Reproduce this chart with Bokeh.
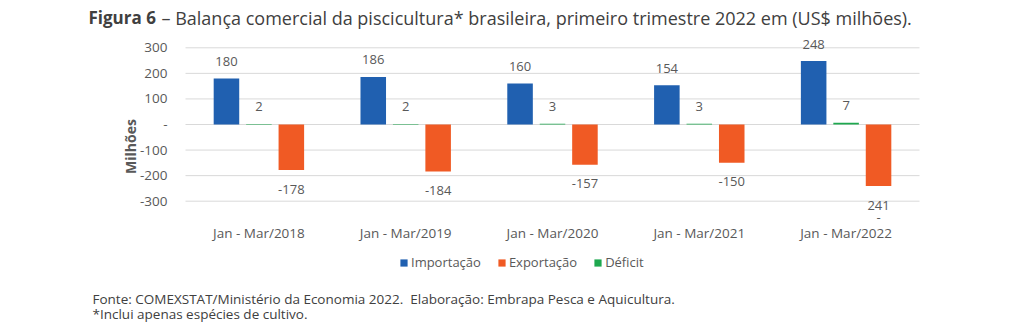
import math
from bokeh.plotting import figure
from bokeh.models import (Range1d, FixedTicker, Label, Legend, LegendItem,
                          ColumnDataSource)
from bokeh.transform import dodge
from bokeh.core.properties import value
from bokeh.embed import file_html
from bokeh.resources import INLINE

# ---- data ----
categories = ["Jan - Mar/2018", "Jan - Mar/2019", "Jan - Mar/2020",
              "Jan - Mar/2021", "Jan - Mar/2022"]
importacao = [180, 186, 160, 154, 248]
exportacao = [-178, -184, -157, -150, -241]
deficit = [2, 2, 3, 3, 7]
y_ticks = [-300, -200, -100, 0, 100, 200, 300]
y_tick_labels = ["-300", "-200", "-100", "-", "100", "200", "300"]

FONT = "Open Sans"
BLUE = "#2060B0"
ORANGE = "#F05A24"
GREEN = "#1EA84F"
TXT = "#595959"
DARK = "#404040"

W, H = 1024, 333
# plot-area geometry (pixels on the canvas)
PX_LEFT, PX_RIGHT = 185, 919
PY_TOP, PY_BOT = 47.3, 200.7   # pixel rows of y = 300 and y = -300
ncat = len(categories)
ppu_x = (PX_RIGHT - PX_LEFT) / ncat
ppu_y = (PY_BOT - PY_TOP) / (y_ticks[-1] - y_ticks[0])
x_start = -PX_LEFT / ppu_x
x_end = ncat + (W - PX_RIGHT) / ppu_x
y_end = y_ticks[-1] + PY_TOP / ppu_y
y_start = y_ticks[0] - (H - PY_BOT) / ppu_y

xc = [i + 0.5 for i in range(ncat)]
imp_lbl = [str(v) for v in importacao]
exp_lbl = [str(v) for v in exportacao]
exp_lbl[-1] = str(abs(exportacao[-1]))  # wrapped label in the original: "241" over "-"
def_lbl = [str(v) for v in deficit]

src = ColumnDataSource(dict(x=xc, imp=importacao, exp=exportacao, dfc=deficit,
                            imp_l=imp_lbl, exp_l=exp_lbl, dfc_l=def_lbl))

p = figure(x_range=Range1d(x_start, x_end), y_range=Range1d(y_start, y_end),
           width=W, height=H, output_backend="svg", toolbar_location=None,
           min_border=0)
p.outline_line_color = None
p.background_fill_color = "white"
p.border_fill_color = "white"
p.xgrid.visible = False
p.ygrid.visible = False

# gridlines (only across the plot area)
p.segment(x0=[0] * len(y_ticks), x1=[ncat] * len(y_ticks), y0=y_ticks, y1=y_ticks,
          line_color="#D9D9D9", line_width=1)

off = 0.221
bw = 0.174
r_imp = p.vbar(x=dodge("x", -off), top="imp", bottom=0, width=bw,
               source=src, fill_color=BLUE, line_color=None)
r_exp = p.vbar(x=dodge("x", off), top="exp", bottom=0, width=bw,
               source=src, fill_color=ORANGE, line_color=None)
r_dfc = p.vbar(x=dodge("x", 0), top="dfc", bottom=0, width=bw,
               source=src, fill_color=GREEN, line_color=None)

lab_kw = dict(source=src, text_font=value(FONT), text_font_size="13px", text_color=TXT,
              text_align="center", text_baseline="middle")
p.text(x=dodge("x", -off), y="imp", text="imp_l", y_offset=-17, **lab_kw)
p.text(x=dodge("x", 0), y="dfc", text="dfc_l", y_offset=-17, **lab_kw)
p.text(x=dodge("x", off), y="exp", text="exp_l", y_offset=19, **lab_kw)
# the stray "-" under the wrapped 2022 export label
p.text(x=[xc[-1] + off], y=[exportacao[-1]], text=["-"], y_offset=31,
       text_font=value(FONT), text_font_size="13px", text_color=TXT,
       text_align="center", text_baseline="middle")

# axes (fixed inside the full-canvas frame)
p.yaxis.fixed_location = 0
p.yaxis.ticker = FixedTicker(ticks=y_ticks)
p.yaxis.major_label_overrides = {t: l for t, l in zip(y_ticks, y_tick_labels)}
p.yaxis.axis_line_color = None
p.yaxis.major_tick_line_color = None
p.yaxis.minor_tick_line_color = None
p.yaxis.major_tick_out = 0
p.yaxis.major_tick_in = 0
p.yaxis.major_label_standoff = 18
p.yaxis.major_label_text_font = FONT
p.yaxis.major_label_text_font_size = "13.5px"
p.yaxis.major_label_text_color = TXT

p.xaxis.fixed_location = y_ticks[0]
p.xaxis.ticker = FixedTicker(ticks=xc)
p.xaxis.major_label_overrides = {x: c for x, c in zip(xc, categories)}
p.xaxis.axis_line_color = None
p.xaxis.major_tick_line_color = None
p.xaxis.minor_tick_line_color = None
p.xaxis.major_tick_out = 0
p.xaxis.major_tick_in = 0
p.xaxis.major_label_standoff = 23
p.xaxis.major_label_text_font = FONT
p.xaxis.major_label_text_font_size = "13.5px"
p.xaxis.major_label_text_color = TXT

# y axis title
p.add_layout(Label(x=130, y=146, x_units="canvas", y_units="canvas", text="Milhões",
                   angle=math.pi / 2, text_align="center", text_baseline="middle",
                   text_font=FONT, text_font_size="14px", text_font_style="bold",
                   text_color=TXT))

# legend
legend = Legend(items=[LegendItem(label="Importação", renderers=[r_imp]),
                       LegendItem(label="Exportação", renderers=[r_exp]),
                       LegendItem(label="Déficit", renderers=[r_dfc])],
                orientation="horizontal", location=(399, 62),
                glyph_width=9, glyph_height=9, label_standoff=3, spacing=16,
                label_height=17, padding=0, margin=0, border_line_color=None,
                background_fill_alpha=0,
                label_text_font=FONT, label_text_font_size="13px", label_text_color=TXT)
p.add_layout(legend, "center")

# title (bold prefix + regular remainder)
p.add_layout(Label(x=88, y=17, x_units="canvas", y_units="canvas", text="Figura 6",
                   text_font=FONT, text_font_size="17px", text_font_style="bold",
                   text_color=DARK, text_baseline="middle", text_align="left"))
p.add_layout(Label(x=161, y=17, x_units="canvas", y_units="canvas",
                   text="– Balança comercial da piscicultura* brasileira, primeiro trimestre 2022 em (US$ milhões).",
                   text_font=FONT, text_font_size="18px", text_color=DARK,
                   text_baseline="middle", text_align="left"))

# footnotes
p.add_layout(Label(x=92, y=298, x_units="canvas", y_units="canvas",
                   text="Fonte: COMEXSTAT/Ministério da Economia 2022.\u00a0 Elaboração: Embrapa Pesca e Aquicultura.",
                   text_font=FONT, text_font_size="13.5px", text_color=DARK,
                   text_baseline="middle", text_align="left"))
p.add_layout(Label(x=92, y=313, x_units="canvas", y_units="canvas",
                   text="*Inclui apenas espécies de cultivo.",
                   text_font=FONT, text_font_size="13.5px", text_color=DARK,
                   text_baseline="middle", text_align="left"))

open("out.html", "w").write(file_html(p, INLINE))
